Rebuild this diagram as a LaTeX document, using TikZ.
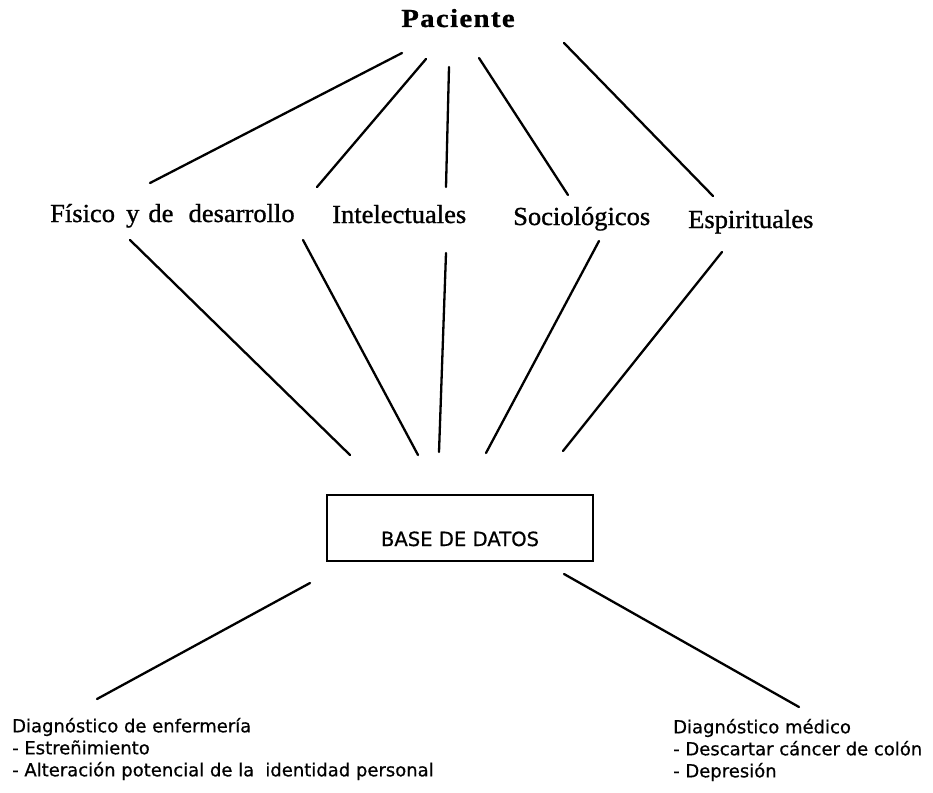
\documentclass[tikz,border=0pt]{standalone}
\usepackage{fontspec}
\usepackage{graphicx}
\setmainfont{Liberation Serif}
\newfontfamily\catfont[FakeBold=1]{Liberation Serif}
\newfontfamily\pacfont[LetterSpace=5,FakeBold=1]{Liberation Serif Bold}
\newfontfamily\dvs[FakeBold=0.6]{DejaVu Sans}
\begin{document}
\begin{tikzpicture}[x=1pt,y=-1pt,
  conn/.style={line width=2.3pt, line cap=round},
  toplabel/.style={inner sep=0pt, anchor=base west, font=\catfont\fontsize{26}{30}\selectfont},
  diag/.style={inner sep=0pt, anchor=north west, align=left, font=\dvs\fontsize{18}{22}\selectfont},
  dbbox/.style={draw, line width=2.2pt, inner sep=0pt, minimum width=266pt,
    text height=51pt, text depth=15pt, anchor=base, font=\dvs\fontsize{19.6}{23}\selectfont}
]
\fill[white] (0,0) rectangle (933,792);
\useasboundingbox (0,0) rectangle (933,792);

% nodes
\node[inner sep=0pt, anchor=base, font=\pacfont\fontsize{26}{30}\selectfont] (pac) at (458,27) {\scalebox{1.1}[1]{Paciente}};
\node[toplabel] (fis) at (50,222) {\scalebox{1.02}[1]{Físico\hspace{.42em}y\hspace{.34em}de\hspace{.57em}desarrollo}};
\node[toplabel] (int) at (332,223) {\scalebox{1.02}[1]{Intelectuales}};
\node[toplabel] (soc) at (513,225) {\scalebox{1.02}[1]{Sociológicos}};
\node[toplabel] (esp) at (688,228) {\scalebox{1.02}[1]{Espirituales}};
\node[dbbox] (db) at (460,546) {BASE DE DATOS};
\node[diag] (enf) at (12,717.7) {Diagnóstico de enfermería\\- Estreñimiento\\- Alteración potencial de la\hspace{.3em} identidad personal};
\node[diag] (med) at (673,718.7) {Diagnóstico médico\\- Descartar cáncer de colón\\- Depresión};

% connector end points
\coordinate (pac-1) at (402,53);  \coordinate (fis-up) at (150,183);
\coordinate (pac-2) at (426,59);  \coordinate (int-up1) at (317,187);
\coordinate (pac-3) at (449,67);  \coordinate (int-up2) at (446,187);
\coordinate (pac-4) at (479,58);  \coordinate (soc-up) at (568,195);
\coordinate (pac-5) at (564,43);  \coordinate (esp-up) at (713,196);

\coordinate (fis-dn) at (130,240);  \coordinate (db-1) at (350,455);
\coordinate (int-dn1) at (303,240); \coordinate (db-2) at (418,455);
\coordinate (int-dn2) at (446,253); \coordinate (db-3) at (439,452);
\coordinate (soc-dn) at (599,241);  \coordinate (db-4) at (486,453);
\coordinate (esp-dn) at (722,252);  \coordinate (db-5) at (563,451);

\coordinate (db-l) at (310,583); \coordinate (enf-up) at (97,699);
\coordinate (db-r) at (564,574); \coordinate (med-up) at (799,707);

% connectors
\draw[conn] (pac-1) -- (fis-up);
\draw[conn] (pac-2) -- (int-up1);
\draw[conn] (pac-3) -- (int-up2);
\draw[conn] (pac-4) -- (soc-up);
\draw[conn] (pac-5) -- (esp-up);
\draw[conn] (fis-dn) -- (db-1);
\draw[conn] (int-dn1) -- (db-2);
\draw[conn] (int-dn2) -- (db-3);
\draw[conn] (soc-dn) -- (db-4);
\draw[conn] (esp-dn) -- (db-5);
\draw[conn] (db-l) -- (enf-up);
\draw[conn] (db-r) -- (med-up);
\end{tikzpicture}
\end{document}
